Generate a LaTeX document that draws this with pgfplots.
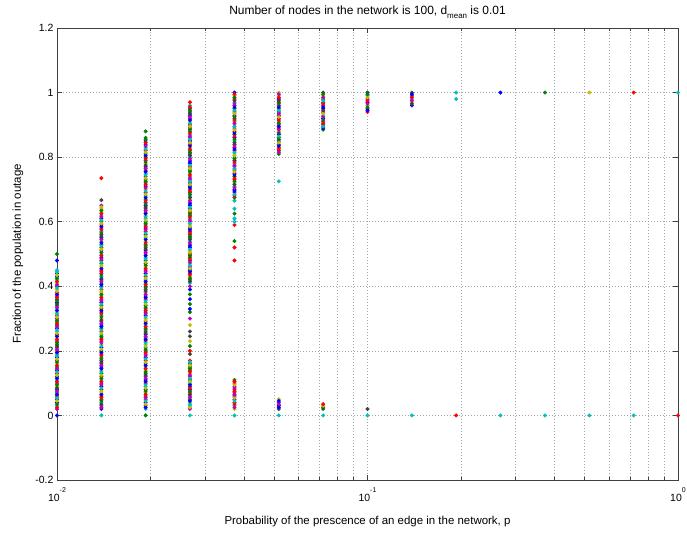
\documentclass[border=0pt]{standalone}
\usepackage{pgfplots}
\pgfplotsset{compat=1.18}
\usepackage{fontspec}
\setmainfont{Liberation Sans}
\definecolor{mb}{rgb}{0,0,1}
\definecolor{mg}{rgb}{0,0.5,0}
\definecolor{mr}{rgb}{1,0,0}
\definecolor{mc}{rgb}{0,0.75,0.75}
\definecolor{mm}{rgb}{0.75,0,0.75}
\definecolor{my}{rgb}{0.75,0.75,0}
\definecolor{mk}{rgb}{0.25,0.25,0.25}
\begin{document}
\begin{tikzpicture}
\begin{axis}[name=ax, scale only axis, width=621bp, height=452bp,
  xmode=log, xmin=0.01, xmax=1, ymin=-0.2, ymax=1.2,
  xtick={0.01,0.1,1},
  xticklabels={{10\raisebox{1.55ex}{\scriptsize -2}},{10\raisebox{1.55ex}{\scriptsize -1}},{10\raisebox{1.55ex}{\scriptsize 0}}},
  xticklabel style={font=\fontsize{10.5}{12}\selectfont, anchor=base, yshift=-21bp},
  ytick={-0.2,0,0.2,0.4,0.6,0.8,1,1.2},
  yticklabels={-0.2,0,0.2,0.4,0.6,0.8,1,1.2},
  yticklabel style={font=\fontsize{10.5}{12}\selectfont},
  xmajorgrids, xminorgrids, ymajorgrids,
  major grid style={gray!70, line width=0.5bp, dash pattern=on 1bp off 2bp},
  minor grid style={gray!70, line width=0.5bp, dash pattern=on 1bp off 2bp},
  axis line style={black!75, line width=0.6bp},
  every tick/.style={black!75, line width=0.5bp},
  major tick length=5bp, minor tick length=3bp,
  tick align=inside,
  title={Number of nodes in the network is 100, d\raisebox{-0.7ex}{\footnotesize mean} is 0.01},
  title style={font=\fontsize{12}{14}\selectfont, at={(axis description cs:0.5,1)}, anchor=base, yshift=8bp},
  xlabel={Probability of the prescence of an edge in the network, p},
  xlabel style={font=\fontsize{11.5}{14}\selectfont, at={(axis description cs:0.5,0)}, anchor=base, yshift=-44bp},
  ylabel={Fraction of the population in outage},
  ylabel style={font=\fontsize{11.5}{14}\selectfont, at={(axis description cs:-0.058,0.5)}, anchor=base},
  /pgf/number format/assume math mode=true,
]
\addplot[scatter, only marks, mark=*, mark size=1.8bp, scatter src=explicit symbolic,
  scatter/classes={
    b={mark=*,draw=mb,fill=mb}, g={mark=*,draw=mg,fill=mg}, r={mark=*,draw=mr,fill=mr},
    c={mark=*,draw=mc,fill=mc}, m={mark=*,draw=mm,fill=mm}, y={mark=*,draw=my,fill=my},
    k={mark=*,draw=mk,fill=mk}}]
table[x=x, y=y, meta=c, row sep=\\]{
x y c\\
0.01 0 b\\ 0.01 0.02 m\\ 0.01 0.03 c\\ 0.01 0.04 b\\ 0.01 0.05 k\\ 0.01 0.06 r\\ 0.01 0.07 g\\ 0.01 0.08 b\\ 0.01 0.09 y\\ 0.01 0.10 m\\
0.01 0.11 c\\ 0.01 0.12 k\\ 0.01 0.13 r\\ 0.01 0.14 b\\ 0.01 0.15 g\\ 0.01 0.16 y\\ 0.01 0.17 m\\ 0.01 0.18 b\\ 0.01 0.19 c\\ 0.01 0.20 r\\
0.01 0.21 k\\ 0.01 0.22 g\\ 0.01 0.23 m\\ 0.01 0.24 y\\ 0.01 0.25 r\\ 0.01 0.26 c\\ 0.01 0.27 b\\ 0.01 0.28 k\\ 0.01 0.29 g\\ 0.01 0.30 m\\
0.01 0.31 r\\ 0.01 0.32 y\\ 0.01 0.33 c\\ 0.01 0.34 g\\ 0.01 0.35 b\\ 0.01 0.36 k\\ 0.01 0.37 m\\ 0.01 0.38 r\\ 0.01 0.39 y\\ 0.01 0.40 k\\
0.01 0.41 y\\ 0.01 0.42 c\\ 0.01 0.43 b\\ 0.01 0.44 b\\ 0.01 0.45 c\\ 0.01 0.48 b\\ 0.01 0.50 g\\
0.01 0.025 r\\ 0.01 0.035 g\\ 0.01 0.045 y\\ 0.01 0.055 c\\ 0.01 0.065 b\\ 0.01 0.075 m\\ 0.01 0.085 k\\ 0.01 0.095 g\\ 0.01 0.105 r\\ 0.01 0.115 b\\
0.01 0.125 y\\ 0.01 0.135 c\\ 0.01 0.145 m\\ 0.01 0.155 r\\ 0.01 0.165 g\\ 0.01 0.175 y\\ 0.01 0.185 c\\ 0.01 0.195 b\\ 0.01 0.205 m\\ 0.01 0.215 k\\
0.01 0.225 g\\ 0.01 0.235 r\\ 0.01 0.245 b\\ 0.01 0.255 y\\ 0.01 0.265 c\\ 0.01 0.275 m\\ 0.01 0.285 r\\ 0.01 0.295 g\\ 0.01 0.305 y\\ 0.01 0.315 c\\
0.01 0.325 b\\ 0.01 0.335 m\\ 0.01 0.345 k\\ 0.01 0.355 g\\ 0.01 0.365 r\\ 0.01 0.375 b\\ 0.01 0.385 y\\ 0.01 0.395 c\\ 0.01 0.405 m\\ 0.01 0.415 r\\
0.01 0.425 g\\ 0.01 0.435 y\\ 0.01 0.445 c\\
0.0139 0 c\\ 0.0139 0.02 b\\ 0.0139 0.03 m\\ 0.0139 0.04 c\\ 0.0139 0.05 g\\ 0.0139 0.06 r\\ 0.0139 0.07 y\\ 0.0139 0.08 k\\ 0.0139 0.09 b\\ 0.0139 0.10 m\\
0.0139 0.11 c\\ 0.0139 0.12 r\\ 0.0139 0.13 g\\ 0.0139 0.14 y\\ 0.0139 0.15 b\\ 0.0139 0.16 k\\ 0.0139 0.17 m\\ 0.0139 0.18 c\\ 0.0139 0.19 r\\ 0.0139 0.20 g\\
0.0139 0.21 b\\ 0.0139 0.22 y\\ 0.0139 0.23 m\\ 0.0139 0.24 k\\ 0.0139 0.25 c\\ 0.0139 0.26 r\\ 0.0139 0.27 g\\ 0.0139 0.28 b\\ 0.0139 0.29 m\\ 0.0139 0.30 y\\
0.0139 0.31 c\\ 0.0139 0.32 k\\ 0.0139 0.33 r\\ 0.0139 0.34 g\\ 0.0139 0.35 b\\ 0.0139 0.36 m\\ 0.0139 0.37 c\\ 0.0139 0.38 y\\ 0.0139 0.39 r\\ 0.0139 0.40 k\\
0.0139 0.41 g\\ 0.0139 0.42 b\\ 0.0139 0.43 c\\ 0.0139 0.44 m\\ 0.0139 0.45 r\\ 0.0139 0.46 y\\ 0.0139 0.47 g\\ 0.0139 0.48 k\\ 0.0139 0.49 b\\ 0.0139 0.50 c\\
0.0139 0.51 m\\ 0.0139 0.52 r\\ 0.0139 0.53 g\\ 0.0139 0.54 y\\ 0.0139 0.55 b\\ 0.0139 0.56 k\\ 0.0139 0.57 c\\ 0.0139 0.58 m\\ 0.0139 0.59 r\\ 0.0139 0.60 g\\
0.0139 0.61 b\\ 0.0139 0.62 c\\ 0.0139 0.63 y\\ 0.0139 0.64 y\\ 0.0139 0.65 m\\ 0.0139 0.667 k\\ 0.0139 0.735 r\\
0.0139 0.025 m\\ 0.0139 0.035 k\\ 0.0139 0.045 g\\ 0.0139 0.055 r\\ 0.0139 0.065 b\\ 0.0139 0.075 y\\ 0.0139 0.085 c\\ 0.0139 0.095 m\\ 0.0139 0.105 r\\ 0.0139 0.115 g\\
0.0139 0.125 y\\ 0.0139 0.135 c\\ 0.0139 0.145 b\\ 0.0139 0.155 m\\ 0.0139 0.165 k\\ 0.0139 0.175 g\\ 0.0139 0.185 r\\ 0.0139 0.195 b\\ 0.0139 0.205 y\\ 0.0139 0.215 c\\
0.0139 0.225 m\\ 0.0139 0.235 r\\ 0.0139 0.245 g\\ 0.0139 0.255 y\\ 0.0139 0.265 c\\ 0.0139 0.275 b\\ 0.0139 0.285 m\\ 0.0139 0.295 k\\ 0.0139 0.305 g\\ 0.0139 0.315 r\\
0.0139 0.325 b\\ 0.0139 0.335 y\\ 0.0139 0.345 c\\ 0.0139 0.355 m\\ 0.0139 0.365 r\\ 0.0139 0.375 g\\ 0.0139 0.385 y\\ 0.0139 0.395 c\\ 0.0139 0.405 b\\ 0.0139 0.415 m\\
0.0139 0.425 k\\ 0.0139 0.435 g\\ 0.0139 0.445 r\\ 0.0139 0.455 b\\ 0.0139 0.465 y\\ 0.0139 0.475 c\\ 0.0139 0.485 m\\ 0.0139 0.495 r\\ 0.0139 0.505 g\\ 0.0139 0.515 y\\
0.0139 0.525 c\\ 0.0139 0.535 b\\ 0.0139 0.545 m\\ 0.0139 0.555 k\\ 0.0139 0.565 g\\ 0.0139 0.575 r\\ 0.0139 0.585 b\\ 0.0139 0.595 y\\ 0.0139 0.605 c\\ 0.0139 0.615 m\\
0.0139 0.625 r\\ 0.0139 0.635 g\\ 0.0139 0.645 y\\
0.0193 0 g\\ 0.0193 0.02 c\\ 0.0193 0.03 r\\ 0.0193 0.04 b\\ 0.0193 0.05 m\\ 0.0193 0.06 g\\ 0.0193 0.07 y\\ 0.0193 0.08 k\\ 0.0193 0.09 c\\ 0.0193 0.10 r\\
0.0193 0.11 b\\ 0.0193 0.12 m\\ 0.0193 0.13 g\\ 0.0193 0.14 y\\ 0.0193 0.15 c\\ 0.0193 0.16 k\\ 0.0193 0.17 r\\ 0.0193 0.18 b\\ 0.0193 0.19 m\\ 0.0193 0.20 g\\
0.0193 0.21 c\\ 0.0193 0.22 y\\ 0.0193 0.23 r\\ 0.0193 0.24 k\\ 0.0193 0.25 b\\ 0.0193 0.26 m\\ 0.0193 0.27 g\\ 0.0193 0.28 c\\ 0.0193 0.29 r\\ 0.0193 0.30 y\\
0.0193 0.31 b\\ 0.0193 0.32 k\\ 0.0193 0.33 m\\ 0.0193 0.34 g\\ 0.0193 0.35 c\\ 0.0193 0.36 r\\ 0.0193 0.37 b\\ 0.0193 0.38 y\\ 0.0193 0.39 m\\ 0.0193 0.40 k\\
0.0193 0.41 g\\ 0.0193 0.42 c\\ 0.0193 0.43 r\\ 0.0193 0.44 b\\ 0.0193 0.45 m\\ 0.0193 0.46 y\\ 0.0193 0.47 g\\ 0.0193 0.48 k\\ 0.0193 0.49 c\\ 0.0193 0.50 r\\
0.0193 0.51 b\\ 0.0193 0.52 m\\ 0.0193 0.53 g\\ 0.0193 0.54 y\\ 0.0193 0.55 c\\ 0.0193 0.56 k\\ 0.0193 0.57 r\\ 0.0193 0.58 b\\ 0.0193 0.59 m\\ 0.0193 0.60 g\\
0.0193 0.61 c\\ 0.0193 0.62 y\\ 0.0193 0.63 r\\ 0.0193 0.64 k\\ 0.0193 0.65 b\\ 0.0193 0.66 m\\ 0.0193 0.67 g\\ 0.0193 0.68 c\\ 0.0193 0.69 r\\ 0.0193 0.70 y\\
0.0193 0.71 b\\ 0.0193 0.72 k\\ 0.0193 0.73 m\\ 0.0193 0.74 g\\ 0.0193 0.75 c\\ 0.0193 0.76 r\\ 0.0193 0.77 b\\ 0.0193 0.78 y\\ 0.0193 0.79 m\\ 0.0193 0.80 k\\
0.0193 0.81 g\\ 0.0193 0.82 r\\ 0.0193 0.83 c\\ 0.0193 0.84 b\\ 0.0193 0.85 b\\ 0.0193 0.86 g\\ 0.0193 0.88 g\\
0.0193 0.025 b\\ 0.0193 0.035 y\\ 0.0193 0.045 c\\ 0.0193 0.055 m\\ 0.0193 0.065 r\\ 0.0193 0.075 g\\ 0.0193 0.085 y\\ 0.0193 0.095 c\\ 0.0193 0.105 b\\ 0.0193 0.115 m\\
0.0193 0.125 k\\ 0.0193 0.135 g\\ 0.0193 0.145 r\\ 0.0193 0.155 b\\ 0.0193 0.165 y\\ 0.0193 0.175 c\\ 0.0193 0.185 m\\ 0.0193 0.195 r\\ 0.0193 0.205 g\\ 0.0193 0.215 y\\
0.0193 0.225 c\\ 0.0193 0.235 b\\ 0.0193 0.245 m\\ 0.0193 0.255 k\\ 0.0193 0.265 g\\ 0.0193 0.275 r\\ 0.0193 0.285 b\\ 0.0193 0.295 y\\ 0.0193 0.305 c\\ 0.0193 0.315 m\\
0.0193 0.325 r\\ 0.0193 0.335 g\\ 0.0193 0.345 y\\ 0.0193 0.355 c\\ 0.0193 0.365 b\\ 0.0193 0.375 m\\ 0.0193 0.385 k\\ 0.0193 0.395 g\\ 0.0193 0.405 r\\ 0.0193 0.415 b\\
0.0193 0.425 y\\ 0.0193 0.435 c\\ 0.0193 0.445 m\\ 0.0193 0.455 r\\ 0.0193 0.465 g\\ 0.0193 0.475 y\\ 0.0193 0.485 c\\ 0.0193 0.495 b\\ 0.0193 0.505 m\\ 0.0193 0.515 k\\
0.0193 0.525 g\\ 0.0193 0.535 r\\ 0.0193 0.545 b\\ 0.0193 0.555 y\\ 0.0193 0.565 c\\ 0.0193 0.575 m\\ 0.0193 0.585 r\\ 0.0193 0.595 g\\ 0.0193 0.605 y\\ 0.0193 0.615 c\\
0.0193 0.625 b\\ 0.0193 0.635 m\\ 0.0193 0.645 k\\ 0.0193 0.655 g\\ 0.0193 0.665 r\\ 0.0193 0.675 b\\ 0.0193 0.685 y\\ 0.0193 0.695 c\\ 0.0193 0.705 m\\ 0.0193 0.715 r\\
0.0193 0.725 g\\ 0.0193 0.735 y\\ 0.0193 0.745 c\\ 0.0193 0.755 b\\ 0.0193 0.765 m\\ 0.0193 0.775 k\\ 0.0193 0.785 g\\ 0.0193 0.795 r\\ 0.0193 0.805 b\\ 0.0193 0.815 y\\
0.0193 0.825 c\\ 0.0193 0.835 m\\ 0.0193 0.845 r\\ 0.0193 0.855 g\\
0.0268 0 c\\ 0.0268 0.02 m\\ 0.0268 0.03 c\\ 0.0268 0.04 y\\ 0.0268 0.05 g\\ 0.0268 0.06 m\\ 0.0268 0.07 r\\ 0.0268 0.08 b\\ 0.0268 0.09 k\\ 0.0268 0.10 c\\
0.0268 0.11 g\\ 0.0268 0.12 m\\ 0.0268 0.13 y\\ 0.0268 0.14 r\\ 0.0268 0.15 g\\ 0.0268 0.16 k\\ 0.0268 0.17 r\\
0.0268 0.025 y\\ 0.0268 0.035 c\\ 0.0268 0.045 b\\ 0.0268 0.055 m\\ 0.0268 0.065 k\\ 0.0268 0.075 g\\ 0.0268 0.085 r\\ 0.0268 0.095 b\\ 0.0268 0.105 y\\ 0.0268 0.115 c\\
0.0268 0.125 m\\ 0.0268 0.135 r\\ 0.0268 0.145 g\\ 0.0268 0.155 y\\ 0.0268 0.165 c\\
0.0268 0.19 k\\ 0.0268 0.20 r\\ 0.0268 0.215 g\\ 0.0268 0.23 y\\ 0.0268 0.245 k\\ 0.0268 0.26 k\\ 0.0268 0.28 y\\ 0.0268 0.30 m\\ 0.0268 0.32 g\\ 0.0268 0.33 b\\
0.0268 0.345 g\\ 0.0268 0.36 b\\ 0.0268 0.375 g\\ 0.0268 0.39 b\\ 0.0268 0.40 m\\
0.0268 0.41 c\\ 0.0268 0.42 g\\ 0.0268 0.43 y\\ 0.0268 0.44 r\\ 0.0268 0.45 b\\ 0.0268 0.46 m\\ 0.0268 0.47 c\\ 0.0268 0.48 k\\ 0.0268 0.49 g\\ 0.0268 0.50 r\\
0.0268 0.51 y\\ 0.0268 0.52 b\\ 0.0268 0.53 m\\ 0.0268 0.54 c\\ 0.0268 0.55 g\\ 0.0268 0.56 k\\ 0.0268 0.57 r\\ 0.0268 0.58 b\\ 0.0268 0.59 y\\ 0.0268 0.60 m\\
0.0268 0.61 c\\ 0.0268 0.62 g\\ 0.0268 0.63 r\\ 0.0268 0.64 k\\ 0.0268 0.65 b\\ 0.0268 0.66 m\\ 0.0268 0.67 y\\ 0.0268 0.68 c\\ 0.0268 0.69 g\\ 0.0268 0.70 r\\
0.0268 0.71 b\\ 0.0268 0.72 k\\ 0.0268 0.73 m\\ 0.0268 0.74 c\\ 0.0268 0.75 y\\ 0.0268 0.76 g\\ 0.0268 0.77 r\\ 0.0268 0.78 b\\ 0.0268 0.79 m\\ 0.0268 0.80 c\\
0.0268 0.81 k\\ 0.0268 0.82 g\\ 0.0268 0.83 y\\ 0.0268 0.84 r\\ 0.0268 0.85 b\\ 0.0268 0.86 m\\ 0.0268 0.87 c\\ 0.0268 0.88 g\\ 0.0268 0.89 k\\ 0.0268 0.90 r\\
0.0268 0.91 y\\ 0.0268 0.92 m\\ 0.0268 0.93 b\\ 0.0268 0.94 g\\ 0.0268 0.95 k\\ 0.0268 0.96 c\\ 0.0268 0.97 r\\
0.0268 0.415 k\\ 0.0268 0.425 g\\ 0.0268 0.435 r\\ 0.0268 0.445 b\\ 0.0268 0.455 y\\ 0.0268 0.465 c\\ 0.0268 0.475 m\\ 0.0268 0.485 r\\ 0.0268 0.495 g\\ 0.0268 0.505 y\\
0.0268 0.515 c\\ 0.0268 0.525 b\\ 0.0268 0.535 m\\ 0.0268 0.545 k\\ 0.0268 0.555 g\\ 0.0268 0.565 r\\ 0.0268 0.575 b\\ 0.0268 0.585 y\\ 0.0268 0.595 c\\ 0.0268 0.605 m\\
0.0268 0.615 r\\ 0.0268 0.625 g\\ 0.0268 0.635 y\\ 0.0268 0.645 c\\ 0.0268 0.655 b\\ 0.0268 0.665 m\\ 0.0268 0.675 k\\ 0.0268 0.685 g\\ 0.0268 0.695 r\\ 0.0268 0.705 b\\
0.0268 0.715 y\\ 0.0268 0.725 c\\ 0.0268 0.735 m\\ 0.0268 0.745 r\\ 0.0268 0.755 g\\ 0.0268 0.765 y\\ 0.0268 0.775 c\\ 0.0268 0.785 b\\ 0.0268 0.795 m\\ 0.0268 0.805 k\\
0.0268 0.815 g\\ 0.0268 0.825 r\\ 0.0268 0.835 b\\ 0.0268 0.845 y\\ 0.0268 0.855 c\\ 0.0268 0.865 m\\ 0.0268 0.875 r\\ 0.0268 0.885 g\\ 0.0268 0.895 y\\ 0.0268 0.905 c\\
0.0268 0.915 b\\ 0.0268 0.925 m\\ 0.0268 0.935 k\\ 0.0268 0.945 g\\ 0.0268 0.955 r\\
0.0373 0 c\\ 0.0373 0.02 y\\ 0.0373 0.03 c\\ 0.0373 0.04 r\\ 0.0373 0.05 m\\ 0.0373 0.06 b\\ 0.0373 0.07 m\\ 0.0373 0.08 r\\ 0.0373 0.09 m\\ 0.0373 0.10 r\\ 0.0373 0.11 g\\
0.0373 0.025 m\\ 0.0373 0.035 r\\ 0.0373 0.045 c\\ 0.0373 0.055 y\\ 0.0373 0.065 m\\ 0.0373 0.075 r\\ 0.0373 0.085 m\\ 0.0373 0.095 y\\ 0.0373 0.105 r\\
0.0373 0.48 r\\ 0.0373 0.52 r\\ 0.0373 0.54 g\\ 0.0373 0.59 r\\ 0.0373 0.60 c\\ 0.0373 0.61 c\\ 0.0373 0.625 g\\ 0.0373 0.64 c\\ 0.0373 0.665 c\\ 0.0373 0.675 g\\
0.0373 0.68 r\\ 0.0373 0.69 m\\ 0.0373 0.70 b\\ 0.0373 0.71 c\\ 0.0373 0.72 y\\ 0.0373 0.73 r\\ 0.0373 0.74 g\\ 0.0373 0.75 k\\ 0.0373 0.76 m\\ 0.0373 0.77 r\\
0.0373 0.78 c\\ 0.0373 0.79 b\\ 0.0373 0.80 g\\ 0.0373 0.81 y\\ 0.0373 0.82 m\\ 0.0373 0.83 r\\ 0.0373 0.84 k\\ 0.0373 0.85 c\\ 0.0373 0.86 b\\ 0.0373 0.87 g\\
0.0373 0.88 r\\ 0.0373 0.89 m\\ 0.0373 0.90 y\\ 0.0373 0.91 c\\ 0.0373 0.92 k\\ 0.0373 0.93 b\\ 0.0373 0.94 r\\ 0.0373 0.95 g\\ 0.0373 0.96 m\\ 0.0373 0.97 c\\
0.0373 0.98 r\\ 0.0373 0.99 y\\ 0.0373 1.00 b\\
0.0373 0.685 c\\ 0.0373 0.695 b\\ 0.0373 0.705 m\\ 0.0373 0.715 k\\ 0.0373 0.725 g\\ 0.0373 0.735 r\\ 0.0373 0.745 b\\ 0.0373 0.755 y\\ 0.0373 0.765 c\\ 0.0373 0.775 m\\
0.0373 0.785 r\\ 0.0373 0.795 g\\ 0.0373 0.805 y\\ 0.0373 0.815 c\\ 0.0373 0.825 b\\ 0.0373 0.835 m\\ 0.0373 0.845 k\\ 0.0373 0.855 g\\ 0.0373 0.865 r\\ 0.0373 0.875 b\\
0.0373 0.885 y\\ 0.0373 0.895 c\\ 0.0373 0.905 m\\ 0.0373 0.915 r\\ 0.0373 0.925 g\\ 0.0373 0.935 y\\ 0.0373 0.945 c\\ 0.0373 0.955 b\\ 0.0373 0.965 m\\ 0.0373 0.975 k\\
0.0373 0.985 g\\ 0.0373 0.995 r\\
0.0518 0 c\\ 0.0518 0.02 k\\ 0.0518 0.03 b\\ 0.0518 0.04 m\\ 0.0518 0.05 y\\ 0.0518 0.025 b\\ 0.0518 0.035 m\\ 0.0518 0.045 b\\ 0.0518 0.725 c\\
0.0518 0.81 g\\ 0.0518 0.82 k\\ 0.0518 0.83 r\\ 0.0518 0.84 g\\ 0.0518 0.85 m\\ 0.0518 0.86 g\\ 0.0518 0.87 b\\ 0.0518 0.88 y\\ 0.0518 0.89 r\\ 0.0518 0.90 m\\
0.0518 0.91 c\\ 0.0518 0.92 r\\ 0.0518 0.93 b\\ 0.0518 0.94 k\\ 0.0518 0.95 g\\ 0.0518 0.96 m\\ 0.0518 0.97 r\\ 0.0518 0.98 b\\ 0.0518 0.99 y\\ 0.0518 1.00 y\\
0.0518 0.815 m\\ 0.0518 0.825 r\\ 0.0518 0.835 b\\ 0.0518 0.845 y\\ 0.0518 0.855 g\\ 0.0518 0.865 c\\ 0.0518 0.875 k\\ 0.0518 0.885 m\\ 0.0518 0.895 b\\ 0.0518 0.905 g\\
0.0518 0.915 r\\ 0.0518 0.925 y\\ 0.0518 0.935 m\\ 0.0518 0.945 c\\ 0.0518 0.955 b\\ 0.0518 0.965 g\\ 0.0518 0.975 k\\ 0.0518 0.985 r\\ 0.0518 0.995 m\\
0.072 0 c\\ 0.072 0.02 g\\ 0.072 0.025 k\\ 0.072 0.03 y\\ 0.072 0.035 r\\
0.072 0.885 g\\ 0.072 0.89 b\\ 0.072 0.90 k\\ 0.072 0.91 m\\ 0.072 0.92 b\\ 0.072 0.93 c\\ 0.072 0.94 r\\ 0.072 0.95 b\\ 0.072 0.96 m\\ 0.072 0.97 k\\
0.072 0.98 g\\ 0.072 0.99 y\\ 0.072 1.00 k\\
0.072 0.895 c\\ 0.072 0.905 r\\ 0.072 0.915 g\\ 0.072 0.925 m\\ 0.072 0.935 y\\ 0.072 0.945 k\\ 0.072 0.955 b\\ 0.072 0.965 r\\ 0.072 0.975 c\\ 0.072 0.985 m\\ 0.072 0.995 g\\
0.1 0 c\\ 0.1 0.02 k\\ 0.1 0.94 r\\ 0.1 0.95 k\\ 0.1 0.96 y\\ 0.1 0.97 b\\ 0.1 0.98 m\\ 0.1 0.99 c\\ 0.1 1.00 k\\
0.1 0.945 b\\ 0.1 0.955 g\\ 0.1 0.965 m\\ 0.1 0.975 r\\ 0.1 0.985 y\\ 0.1 0.995 g\\
0.139 0 c\\ 0.139 0.96 b\\ 0.139 0.97 y\\ 0.139 0.98 c\\ 0.139 0.99 m\\ 0.139 1.00 g\\
0.139 0.965 k\\ 0.139 0.975 m\\ 0.139 0.985 r\\ 0.139 0.995 b\\
0.193 0 r\\ 0.193 0.98 c\\ 0.193 1 c\\
0.268 0 c\\ 0.268 1 b\\
0.373 0 c\\ 0.373 1 g\\
0.518 0 c\\ 0.518 1 y\\
0.72 0 c\\ 0.72 1 r\\
1 0 r\\ 1 1 c\\
};
\end{axis}
\pgfresetboundingbox
\path[use as bounding box] ([shift={(-57bp,-53bp)}]ax.south west) rectangle ([shift={(9bp,28bp)}]ax.north east);
\end{tikzpicture}
\end{document}
